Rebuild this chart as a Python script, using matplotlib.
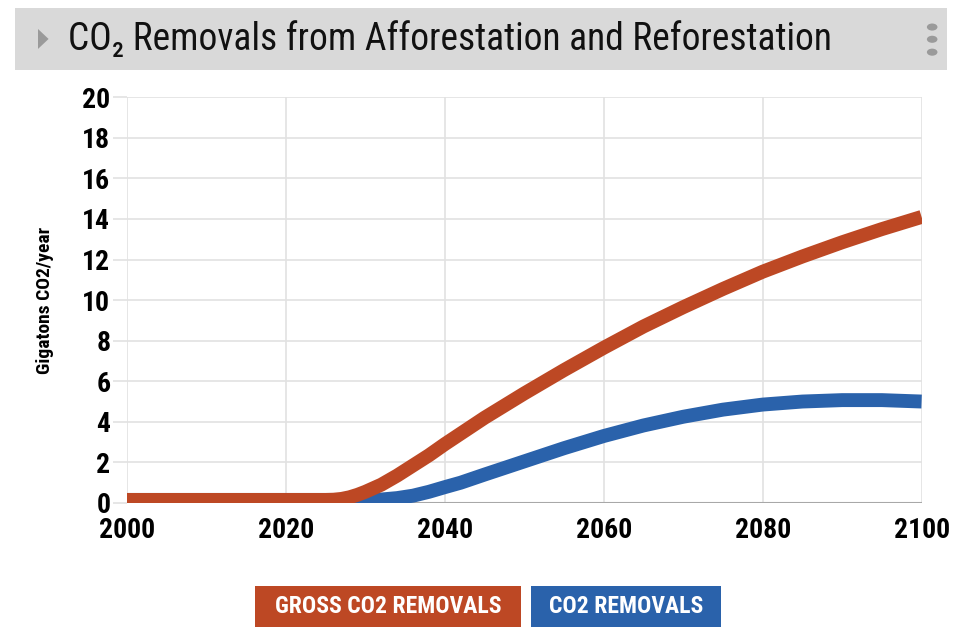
import matplotlib
matplotlib.use("Agg")
import matplotlib.pyplot as plt
from matplotlib.patches import Rectangle, Polygon, Circle
from matplotlib import font_manager

years_gross = [2000, 2010, 2020, 2025, 2026, 2027, 2028, 2029, 2030, 2032, 2034, 2036,
               2038, 2040, 2045, 2050, 2055, 2060, 2065, 2070, 2075, 2080, 2085,
               2090, 2095, 2100]
gross = [0.15, 0.15, 0.15, 0.15, 0.16, 0.2, 0.28, 0.4, 0.55, 0.9, 1.35, 1.85,
         2.35, 2.9, 4.2, 5.4, 6.55, 7.65, 8.7, 9.65, 10.55, 11.4, 12.15,
         12.85, 13.5, 14.1]
years_net = [2000, 2010, 2020, 2030, 2032, 2034, 2036, 2038, 2040, 2042, 2045, 2050,
             2055, 2060, 2065, 2070, 2075, 2080, 2085, 2090, 2095, 2100]
net = [0.15, 0.15, 0.15, 0.15, 0.17, 0.24, 0.36, 0.55, 0.78, 1.0, 1.4, 2.05,
       2.7, 3.3, 3.82, 4.25, 4.6, 4.85, 5.0, 5.07, 5.07, 5.0]
legend_labels = ["GROSS CO2 REMOVALS", "CO2 REMOVALS"]
colors = ["#bd4824", "#2a62ab"]

names = {f.name for f in font_manager.fontManager.ttflist}
condensed = None
for cand in ["Roboto Condensed", "Liberation Sans Narrow", "Open Sans Condensed"]:
    if cand in names:
        condensed = cand
        break
if condensed:
    plt.rcParams["font.family"] = [condensed, "DejaVu Sans"]
    k = 1.0
else:
    plt.rcParams["font.family"] = ["Roboto", "DejaVu Sans"]
    k = 0.9

fig = plt.figure(figsize=(9.62, 6.44), dpi=100)
ax = fig.add_axes([0.132, 0.219, 0.826, 0.630])

ax.plot(years_net, net, color=colors[1], lw=10, solid_capstyle="butt", zorder=3)
ax.plot(years_gross, gross, color=colors[0], lw=10, solid_capstyle="butt", zorder=4)

ax.set_xlim(2000, 2100)
ax.set_ylim(0, 20)
ax.set_xticks(range(2000, 2101, 20))
ax.set_yticks(range(0, 21, 2))
ax.grid(True, color="#e2e2e2", lw=1.2)
ax.set_axisbelow(True)
for s in ax.spines.values():
    s.set_visible(False)
ax.axhline(0, color="#a8a8a8", lw=1.5, zorder=2)
ax.tick_params(axis="y", length=10, color="#e2e2e2", width=1.2, pad=2, labelsize=20)
ax.tick_params(axis="x", length=0, pad=10, labelsize=20)
for lab in ax.get_xticklabels() + ax.get_yticklabels():
    lab.set_fontweight("bold")
ax.set_ylabel("Gigatons CO2/year", fontsize=14, fontweight="bold", labelpad=20)

# header bar
fig.patches.append(Rectangle((0.0156, 0.891), 0.969, 0.097, transform=fig.transFigure,
                             facecolor="#d9d9d9", edgecolor="none"))
fig.patches.append(Polygon([[0.0395, 0.955], [0.0395, 0.924], [0.0505, 0.9395]],
                           closed=True, transform=fig.transFigure,
                           facecolor="#9a9a9a", edgecolor="none"))
for yy in [0.958, 0.939, 0.919]:
    fig.patches.append(Circle((0.969, yy), 0.0055, transform=fig.transFigure,
                              facecolor="#9a9a9a", edgecolor="none"))
fig.text(0.071, 0.939, "CO\u2082 Removals from Afforestation and Reforestation",
         fontsize=27 * k, va="center", ha="left", color="#111111")

# legend boxes
boxes = [(0.265, 0.277), (0.552, 0.197)]
for (x0, w), lab, c in zip(boxes, legend_labels, colors):
    fig.patches.append(Rectangle((x0, 0.026), w, 0.064, transform=fig.transFigure,
                                 facecolor=c, edgecolor="none"))
    fig.text(x0 + w / 2, 0.058, lab, fontsize=17, fontweight="bold", color="white",
             ha="center", va="center")

fig.savefig("out.png", dpi=100)
